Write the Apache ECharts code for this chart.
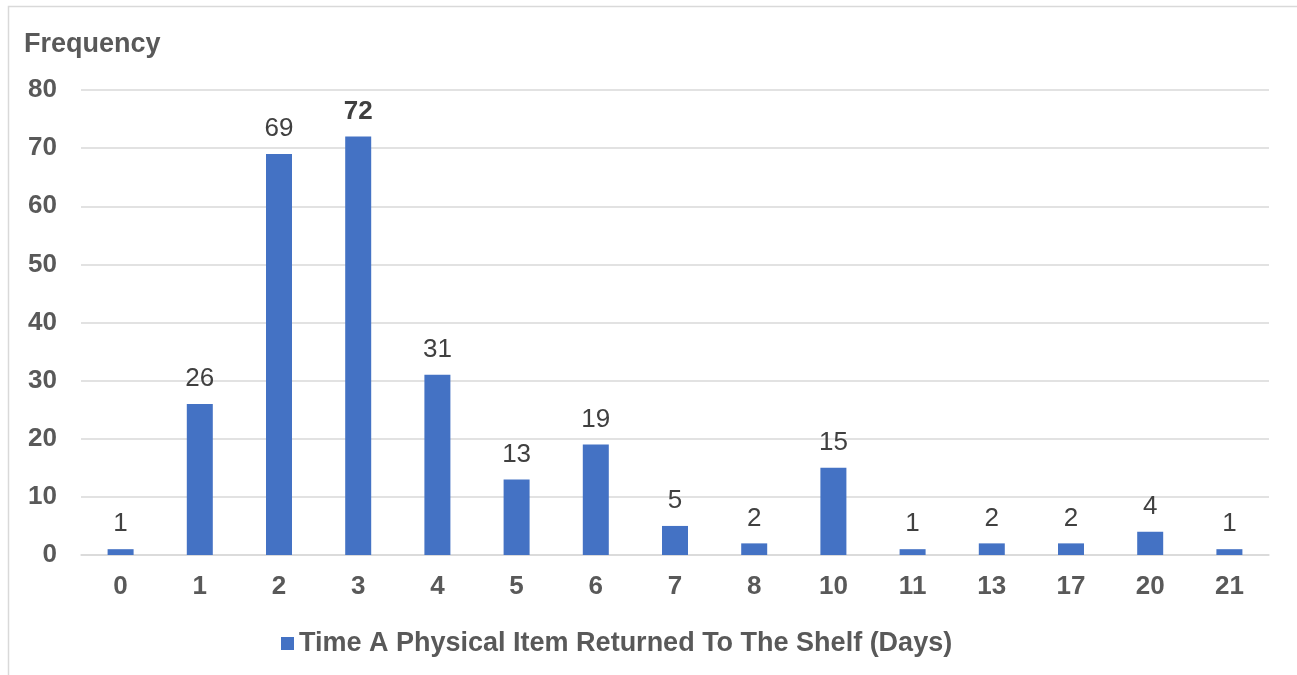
<!DOCTYPE html>
<html>
<head>
<meta charset="utf-8">
<script src="https://cdn.jsdelivr.net/npm/echarts@6/dist/echarts.min.js"></script>
<style>
  html, body { margin: 0; padding: 0; background: #fff; }
  #main { width: 1297px; height: 675px; }
</style>
</head>
<body>
<div id="main"></div>
<script>
  // data
  var days = ['0', '1', '2', '3', '4', '5', '6', '7', '8', '10', '11', '13', '17', '20', '21']
  var frequency = [1, 26, 69, 72, 31, 13, 19, 5, 2, 15, 1, 2, 2, 4, 1]
  var seriesName = 'Time A Physical Item Returned To The Shelf (Days)'

  var font = 'Arial, "Liberation Sans", sans-serif'
  var gray = '#595959'

  var chart = echarts.init(document.getElementById('main'))
  chart.setOption({
    animation: false,
    textStyle: { fontFamily: font },
    graphic: [{
      type: 'rect',
      shape: { x: 8.5, y: 6.5, width: 1400, height: 800 },
      style: { fill: 'none', stroke: '#d9d9d9', lineWidth: 1.5 },
      silent: true
    }],
    title: {
      text: 'Frequency',
      left: 19,
      top: 26,
      textStyle: { fontFamily: font, fontSize: 27, fontWeight: 'bold', color: gray }
    },
    grid: { left: 81, right: 28, top: 90, bottom: 120 },
    legend: {
      bottom: 13,
      left: 276,
      itemWidth: 13,
      itemHeight: 13,
      itemGap: 10,
      textStyle: { fontFamily: font, fontSize: 27, fontWeight: 'bold', color: gray },
      data: [{ name: seriesName, icon: 'rect' }]
    },
    xAxis: {
      type: 'category',
      data: days,
      axisLine: { lineStyle: { color: '#d9d9d9', width: 1.5 } },
      axisTick: { show: false },
      axisLabel: { margin: 19, fontFamily: font, fontSize: 26, fontWeight: 'bold', color: gray }
    },
    yAxis: {
      type: 'value',
      min: 0,
      max: 80,
      interval: 10,
      axisLine: { show: false },
      axisTick: { show: false },
      splitLine: { lineStyle: { color: '#d9d9d9', width: 1.5 } },
      axisLabel: { margin: 24, fontFamily: font, fontSize: 26, fontWeight: 'bold', color: gray }
    },
    series: [{
      name: seriesName,
      type: 'bar',
      barWidth: 26,
      itemStyle: { color: '#4472c4' },
      label: {
        show: true,
        position: 'top',
        distance: 12,
        fontFamily: font,
        fontSize: 26,
        color: '#404040',
        formatter: function (p) {
          return p.value === 72 ? '{b|' + p.value + '}' : p.value
        },
        rich: { b: { fontFamily: font, fontSize: 26, fontWeight: 'bold', color: '#404040' } }
      },
      data: frequency
    }]
  })
</script>
</body>
</html>
